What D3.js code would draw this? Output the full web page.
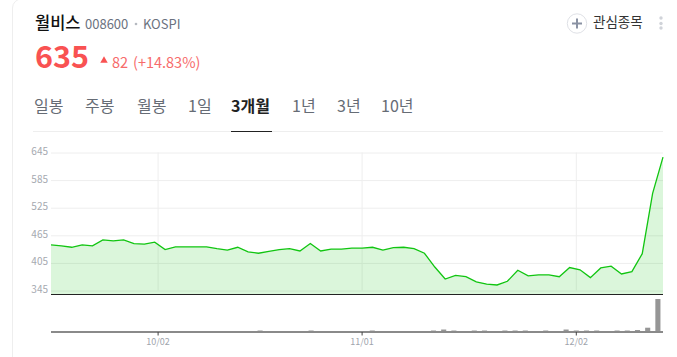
<!DOCTYPE html>
<html>
<head>
<meta charset="utf-8">
<script src="https://cdn.jsdelivr.net/npm/d3@7"></script>
<style>
  html, body { margin: 0; padding: 0; background: #fff; overflow: hidden; }
  text { font-family: "Noto Sans CJK KR", "Noto Sans", sans-serif; }
  .grid line { stroke: #eeeeee; }
  .grid .domain { display: none; }
</style>
</head>
<body>
<svg width="677" height="357"></svg>
<script>
const dates = [
  '09/18','09/19','09/20','09/23','09/24','09/25','09/26','09/27','09/30','10/01',
  '10/02','10/04','10/07','10/08','10/10','10/11','10/14','10/15','10/16','10/17',
  '10/18','10/21','10/22','10/23','10/24','10/25','10/28','10/29','10/30','10/31',
  '11/01','11/04','11/05','11/06','11/07','11/08','11/11','11/12','11/13','11/14',
  '11/15','11/18','11/19','11/20','11/21','11/22','11/25','11/26','11/27','11/28',
  '11/29','12/02','12/03','12/04','12/05','12/06','12/09','12/10','12/11','12/12'
];
const prices = [
  444, 442, 439, 444, 442, 455, 453, 455, 447, 446,
  450, 434, 440, 440, 440, 440, 436, 433, 439, 429,
  426, 430, 434, 436, 431, 447, 431, 435, 435, 437,
  437, 439, 433, 438, 439, 436, 426, 396, 370, 378,
  375, 364, 359, 357, 365, 389, 377, 379, 379, 375,
  395, 390, 373, 394, 398, 381, 386, 425, 556, 635
];
const volumes = [
  40, 40, 40, 40, 40, 40, 40, 40, 40, 40,
  40, 40, 40, 40, 40, 40, 40, 40, 40, 40,
  225, 40, 40, 40, 40, 225, 40, 40, 40, 40,
  40, 225, 40, 40, 40, 40, 40, 225, 375, 225,
  40, 225, 225, 40, 225, 225, 225, 40, 225, 40,
  375, 225, 225, 225, 40, 225, 225, 300, 650, 5000
];
const priceTicks = [345, 405, 465, 525, 585, 645];
const dateTicks = ['10/02', '11/01', '12/02'];
const tabs = ['일봉', '주봉', '월봉', '1일', '3개월', '1년', '3년', '10년'];
const tabX = [34, 85, 137, 188, 231, 292, 337, 381];

const svg = d3.select('svg');
const left = 51, right = 663;
const baseY = 294.5;

const x = d3.scalePoint().domain(dates).range([left, right]);
const xBand = d3.scaleBand().domain(dates).range([left, right]).paddingInner(0.5).paddingOuter(0.25);
const y = d3.scaleLinear().domain([345, 645]).range([290.5, 152.5]);
const yVol = d3.scaleLinear().domain([0, d3.max(volumes)]).range([332, 299]);

// card edge
svg.append('rect')
  .attr('x', 12.5).attr('y', -1)
  .attr('width', 900).attr('height', 500).attr('rx', 9)
  .attr('fill', 'none').attr('stroke', '#eeeeee');

// header
const head = svg.append('g');
const addText = (px, py, str, size, fill, weight) => head.append('text')
  .attr('x', px).attr('y', py)
  .attr('font-size', size).attr('fill', fill).attr('font-weight', weight || 400)
  .text(str);

addText(35, 29, '월비스', 16.5, '#111111', 500);
addText(85, 29, '008600', 13, '#6b7280');
head.append('circle').attr('cx', 136).attr('cy', 24).attr('r', 1.3).attr('fill', '#b5b9c0');
addText(143, 29, 'KOSPI', 13, '#6b7280');
addText(35, 68, '635', 30.5, '#f95252', 700);
head.append('path')
  .attr('d', d3.symbol(d3.symbolTriangle, 24)())
  .attr('transform', 'translate(104,60.5)')
  .attr('fill', '#f95252');
addText(112, 68, '82', 14.5, '#f76b6b');
addText(133, 68, '(+14.83%)', 14.5, '#f76b6b');

head.append('circle').attr('cx', 577).attr('cy', 23.5).attr('r', 9.7)
  .attr('fill', '#fff').attr('stroke', '#dfe1e6');
head.append('path').attr('d', 'M572,23.5H582M577,18.5V28.5')
  .attr('stroke', '#8a92a3').attr('stroke-width', 2);
addText(593, 27, '관심종목', 13.5, '#333333');
head.selectAll('.dot').data([18, 23.5, 28]).join('circle')
  .attr('class', 'dot')
  .attr('cx', 661).attr('cy', d => d).attr('r', 1.7).attr('fill', '#d0d3d9');

tabs.forEach((t, i) => {
  addText(tabX[i], 112, t, 16, i === 4 ? '#222222' : '#666c75', i === 4 ? 700 : 400);
});
svg.append('line').attr('x1', 33).attr('x2', 663).attr('y1', 131.5).attr('y2', 131.5).attr('stroke', '#eeeeee');
svg.append('line').attr('x1', 231).attr('x2', 272).attr('y1', 131.5).attr('y2', 131.5).attr('stroke', '#222222');

// grid
const gridY = svg.append('g')
  .attr('class', 'grid')
  .attr('transform', `translate(${left},0)`)
  .call(d3.axisLeft(y).tickValues(priceTicks).tickSize(-(right - left)).tickPadding(3));
gridY.selectAll('text')
  .attr('font-size', 10)
  .attr('fill', '#a5a9b0')
  .attr('dy', '0.2em')
  .style('font-family', '"Noto Sans CJK KR", sans-serif');

svg.append('g')
  .attr('class', 'grid')
  .attr('transform', 'translate(0,290.5)')
  .call(d3.axisBottom(xBand).tickValues(dateTicks).tickSize(-138).tickFormat(''));

// price area + line
const area = d3.area()
  .x((d, i) => x(dates[i]))
  .y0(baseY)
  .y1(d => y(d));
const line = d3.line()
  .x((d, i) => x(dates[i]))
  .y(d => y(d));

svg.append('path')
  .attr('d', area(prices))
  .attr('fill', '#0fc30f')
  .attr('fill-opacity', 0.15);
svg.append('path')
  .attr('d', line(prices))
  .attr('fill', 'none')
  .attr('stroke', '#11c511')
  .attr('stroke-width', 1.3);
svg.append('line')
  .attr('x1', left).attr('x2', right)
  .attr('y1', baseY).attr('y2', baseY)
  .attr('stroke', '#222222');

// volume
svg.append('g').selectAll('rect')
  .data(volumes)
  .join('rect')
  .attr('x', (d, i) => xBand(dates[i]))
  .attr('y', d => yVol(d))
  .attr('width', xBand.bandwidth())
  .attr('height', d => yVol(0) - yVol(d))
  .attr('fill', '#969696');

svg.append('line')
  .attr('x1', left).attr('x2', right)
  .attr('y1', 332).attr('y2', 332)
  .attr('stroke', '#8a8a8a').attr('stroke-width', 2);

const xAxis = svg.append('g')
  .attr('transform', 'translate(0,332)')
  .call(d3.axisBottom(xBand).tickValues(dateTicks).tickSize(3.5).tickPadding(3));
xAxis.select('.domain').remove();
xAxis.selectAll('line').attr('stroke', '#444444');
xAxis.selectAll('text')
  .attr('font-size', 9)
  .attr('fill', '#a0a4ac')
  .style('font-family', '"Noto Sans CJK KR", sans-serif');
</script>
</body>
</html>
